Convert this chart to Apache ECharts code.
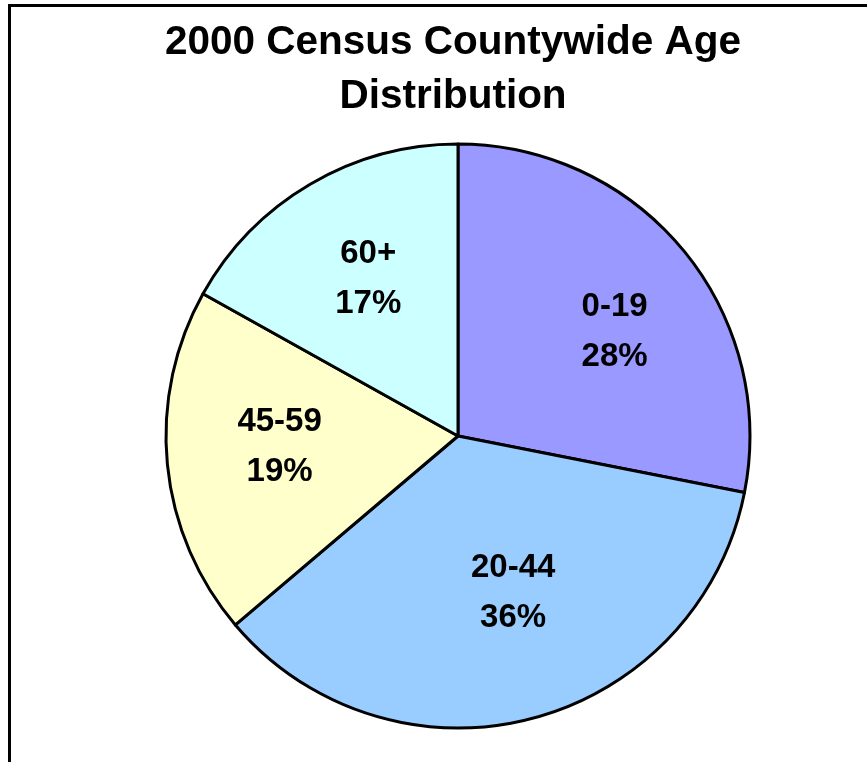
<!DOCTYPE html>
<html>
<head>
<meta charset="utf-8">
<script src="https://cdn.jsdelivr.net/npm/echarts@6/dist/echarts.min.js"></script>
<style>
html,body{margin:0;padding:0;background:#fff;}
#c{width:867px;height:762px;}
</style>
</head>
<body>
<div id="c"></div>
<script>
const titleText = "2000 Census Countywide Age\nDistribution";
const categories = ["0-19", "20-44", "45-59", "60+"];
const values = [28.1, 35.7, 19.3, 16.9];
const colors = ["#9999FF", "#99CCFF", "#FFFFCC", "#CCFFFF"];

const CX = 458, CY = 436, R = 292;
const labelScale = 1.23;
// small per-slice label nudges (px) to mimic the original label placement
const labelNudge = {"0-19": [15, 12], "20-44": [9, -20], "45-59": [4, -7], "60+": [3, 1]};

const chart = echarts.init(document.getElementById('c'), null, {renderer: 'canvas'});
const option = {
  backgroundColor: '#ffffff',
  animation: false,
  title: {
    text: titleText,
    left: 448,
    top: 11,
    textAlign: 'center',
    textStyle: {
      fontFamily: 'Liberation Sans, Arial, sans-serif',
      fontWeight: 'bold',
      fontSize: 40.5,
      lineHeight: 54,
      color: '#000'
    }
  },
  graphic: [{
    type: 'rect',
    shape: {x: 9.5, y: 5.5, width: 2000, height: 2000},
    style: {fill: 'none', stroke: '#000', lineWidth: 3},
    silent: true,
    z: 100
  }],
  series: [{
    type: 'pie',
    center: [CX, CY],
    radius: [0, R],
    startAngle: 90,
    clockwise: true,
    avoidLabelOverlap: false,
    silent: true,
    data: categories.map((c, i) => ({
      name: c,
      value: values[i],
      itemStyle: {color: colors[i]}
    })),
    itemStyle: {borderColor: '#000', borderWidth: 3},
    label: {
      show: true,
      position: 'inside',
      formatter: p => p.name + '\n' + Math.round(p.percent) + '%',
      fontFamily: 'Liberation Sans, Arial, sans-serif',
      fontWeight: 'bold',
      fontSize: 33,
      lineHeight: 50,
      color: '#000'
    },
    labelLine: {show: false},
    labelLayout: function (params) {
      const r = params.labelRect;
      const lx = r.x + r.width / 2, ly = r.y + r.height / 2;
      const n = labelNudge[categories[params.dataIndex]] || [0, 0];
      return {dx: (lx - CX) * (labelScale - 1) + n[0], dy: (ly - CY) * (labelScale - 1) + n[1]};
    }
  }]
};
chart.setOption(option);
</script>
</body>
</html>
